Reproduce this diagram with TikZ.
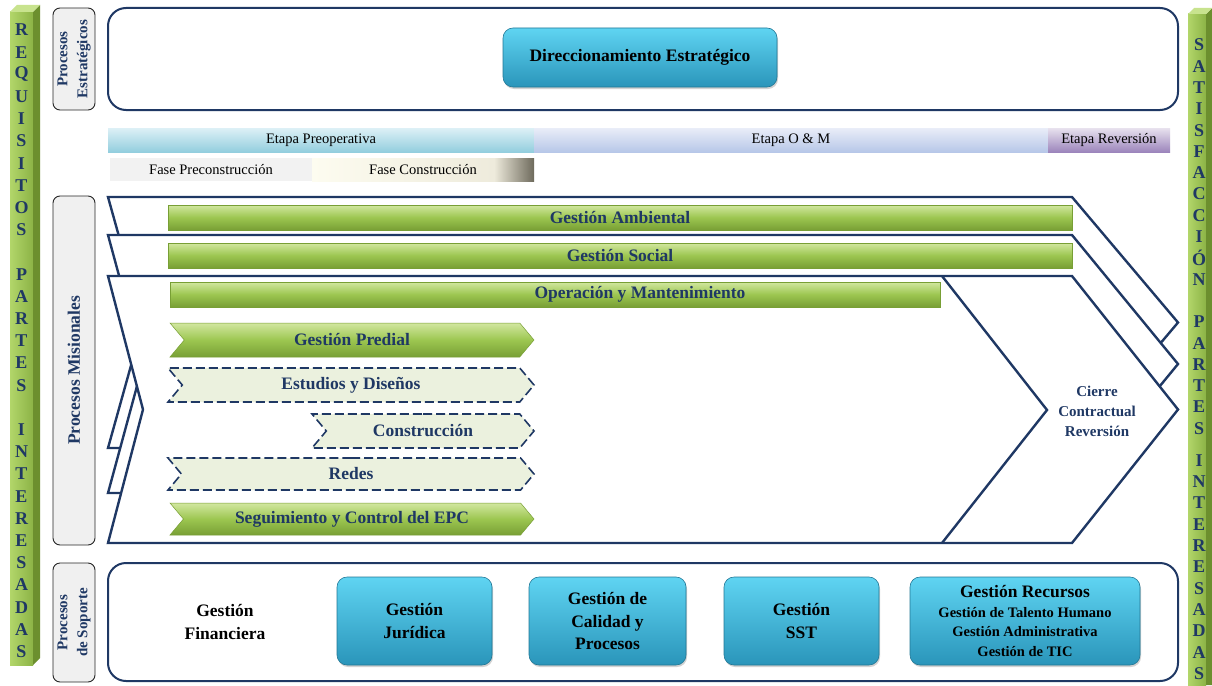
\documentclass[tikz,border=0pt]{standalone}
\usepackage{fontspec}
\setmainfont{Liberation Serif}
\usetikzlibrary{shapes.symbols,shadows}

\definecolor{navy}{HTML}{1F3864}
\definecolor{grnA}{HTML}{D2E7A0}
\definecolor{grnB}{HTML}{9CC650}
\definecolor{grnC}{HTML}{789F35}
\definecolor{paleGrn}{HTML}{EBF1DE}
\definecolor{cyanA}{HTML}{5FD4F2}
\definecolor{cyanB}{HTML}{2A95BA}
\definecolor{barA}{HTML}{B2D66A}
\definecolor{barB}{HTML}{8CB346}
\definecolor{barSide}{HTML}{6C8F2E}
\definecolor{barTop}{HTML}{C8E38E}
\definecolor{preA}{HTML}{DDF0F6}
\definecolor{preB}{HTML}{93CEDE}
\definecolor{omA}{HTML}{E9EDF8}
\definecolor{omB}{HTML}{B7C7E8}
\definecolor{revA}{HTML}{E8E2EE}
\definecolor{revB}{HTML}{9C85BC}
\definecolor{fpreC}{HTML}{F2F2F2}
\definecolor{creamA}{HTML}{FDFCF0}
\definecolor{creamM}{HTML}{EEEBDC}
\definecolor{creamB}{HTML}{6E6A5C}

\pgfdeclarehorizontalshading{fconshade}{100bp}{color(0bp)=(creamA); color(25bp)=(creamA); color(66bp)=(creamM); color(75bp)=(creamB); color(100bp)=(creamB)}

\newcommand{\bigbf}{\fontsize{17.5}{22.5}\selectfont\bfseries}
\newcommand{\midbf}{\fontsize{15}{20}\selectfont\bfseries}
\newcommand{\smallbf}{\fontsize{14.5}{19.5}\selectfont\bfseries}
\newcommand{\bandfont}{\fontsize{14.5}{17}\selectfont}
\newcommand{\ltrfont}{\fontsize{18}{20}\selectfont\bfseries}

\begin{document}
\begin{tikzpicture}[x=1pt,y=-1pt,
    layer/.style={fill=white,draw=navy,line width=2.4pt,line join=miter},
    frame/.style={rectangle,rounded corners=18pt,draw=navy,line width=2pt,fill=white,inner sep=0pt},
    procbox/.style={rectangle,rounded corners=7pt,fill=gray!12,draw=black!85,line width=0.9pt,
      text=navy,inner sep=0pt,rotate=90,align=center},
    band/.style={rectangle,inner sep=0pt,minimum height=24,font=\bandfont},
    bar/.style={rectangle,inner sep=0pt,minimum height=25,top color=grnA,bottom color=grnC,
      middle color=grnB,draw=grnC,line width=0.5pt,text=navy,font=\bigbf},
    arrowgrn/.style={signal,signal from=west,signal to=east,signal pointer angle=100,inner sep=0pt,
      top color=grnA,bottom color=grnC,middle color=grnB,draw=grnC,line width=0.5pt,text=navy,font=\bigbf},
    arrowdash/.style={signal,signal from=west,signal to=east,signal pointer angle=100,inner sep=0pt,
      fill=paleGrn,draw=navy,dash pattern=on 9pt off 4pt,line width=1.6pt,text=navy,font=\bigbf},
    cybox/.style={rectangle,rounded corners=10pt,top color=cyanA,bottom color=cyanB,draw=cyanB!80!black,
      line width=0.6pt,inner sep=2pt,align=center,font=\bigbf,
      drop shadow={opacity=0.35,shadow xshift=1pt,shadow yshift=-2pt}},
    ltr/.style={inner sep=0pt,font=\ltrfont,text=navy}]

\useasboundingbox (0,0) rectangle (1212,685);
\fill[white] (0,0) rectangle (1212,685);

% barras laterales
\shade[left color=barA,right color=barB] (10,12) rectangle (33,665);
\fill[barSide] (33,12) -- (40,5) -- (40,658) -- (33,665) -- cycle;
\fill[barTop] (10,12) -- (17,5) -- (40,5) -- (33,12) -- cycle;
\shade[left color=barA,right color=barB] (1188,14) rectangle (1206,685);
\fill[barSide] (1206,14) -- (1212,8) -- (1212,685) -- (1206,685) -- cycle;
\fill[barTop] (1188,14) -- (1194,8) -- (1212,8) -- (1206,14) -- cycle;

\foreach \ch/\k [count=\n] in {R/0,E/1,Q/2,U/3,I/4,S/5,I/6,T/7,O/8,S/9,
    P/11,A/12,R/13,T/14,E/15,S/16,I/18,N/19,T/20,E/21,R/22,E/23,S/24,A/25,D/26,A/27,S/28}
  \node[ltr] (req\n) at (21.5,{30+\k*22.2}) {\ch};
\foreach \ch/\k [count=\n] in {S/0,A/1,T/2,I/3,S/4,F/5,A/6,C/7,C/8,I/9,Ó/10,N/11,
    P/13,A/14,R/15,T/16,E/17,S/18,I/19.5,N/20.5,T/21.5,E/22.5,R/23.5,E/24.5,S/25.5,A/26.5,D/27.5,A/28.5,S/29.5}
  \node[ltr] (sat\n) at (1199,{45+\k*21.3}) {\ch};

% procesos estrategicos
\node[frame,minimum width=1070,minimum height=102] (estr) at (643,59) {};
\node[cybox,minimum width=274,minimum height=59] (dir) at (640,57.5) {Direccionamiento Estratégico};
\node[procbox,minimum width=102,minimum height=42,font=\midbf] (pe) at (74,59) {Procesos\\Estratégicos};

% etapas y fases
\node[band,top color=preA,bottom color=preB,minimum width=426] (pre) at (321,140) {Etapa Preoperativa};
\node[band,top color=omA,bottom color=omB,minimum width=514] (om) at (791,140) {Etapa O \& M};
\node[band,top color=revA,bottom color=revB,minimum width=122] (rev) at (1109,140) {Etapa Reversión};
\node[band,fill=fpreC,minimum width=202,minimum height=23] (fpre) at (211,169.5) {Fase Preconstrucción};
\node[band,shading=fconshade,minimum width=222,minimum height=23] (fcon) at (423,169.5) {Fase Construcción};

% procesos misionales
\node[procbox,minimum width=349,minimum height=42,font=\bigbf] (pm) at (74,370.5) {Procesos Misionales};
\foreach \t/\b in {197/448,235/493,276/543}
  \draw[layer] (108,\t) -- (1072,\t) -- (1178,{(\t+\b)/2}) -- (1072,\b) -- (108,\b) -- (143,{(\t+\b)/2}) -- cycle;
\draw[layer,fill=none] (942,276) -- (1047,410) -- (942,543);
\node[font=\midbf,text=navy,align=center] (cierre) at (1097,411) {Cierre\\Contractual\\Reversión};

\node[bar,minimum width=904] (amb) at (620,217.5) {Gestión Ambiental};
\node[bar,minimum width=904] (soc) at (620,255.5) {Gestión Social};
\node[bar,minimum width=770,label={[text=navy,font=\bigbf,xshift=85pt]center:Operación y Mantenimiento}] (oym) at (555,294.5) {};

\node[arrowgrn,minimum width=364,minimum height=34] (pred) at (352,340) {Gestión Predial};
\node[arrowdash,minimum width=366,minimum height=34] (est) at (351,385) {Estudios y Diseños};
\node[arrowdash,minimum width=222,minimum height=34] (cons) at (423,431) {Construcción};
\node[arrowdash,minimum width=366,minimum height=32] (red) at (351,474) {Redes};
\node[arrowgrn,minimum width=364,minimum height=32] (seg) at (352,519) {Seguimiento y Control del EPC};

% procesos de soporte
\node[frame,minimum width=1070,minimum height=118] (sop) at (643,622) {};
\node[procbox,minimum width=119,minimum height=42,font=\midbf] (ps) at (74,622.5) {Procesos\\de Soporte};
\node[font=\bigbf,align=center] (fin) at (225,622) {Gestión\\Financiera};
\node[cybox,minimum width=155,minimum height=88] (jur) at (414.5,621) {Gestión\\Jurídica};
\node[cybox,minimum width=157,minimum height=88] (cal) at (607.5,621) {Gestión de\\Calidad y\\Procesos};
\node[cybox,minimum width=155,minimum height=88] (sst) at (801.5,621) {Gestión\\SST};
\node[cybox,minimum width=230,minimum height=88,font=\smallbf] (rec) at (1025,621)
  {{\bigbf Gestión Recursos}\\Gestión de Talento Humano\\Gestión Administrativa\\Gestión de TIC};
\end{tikzpicture}
\end{document}
